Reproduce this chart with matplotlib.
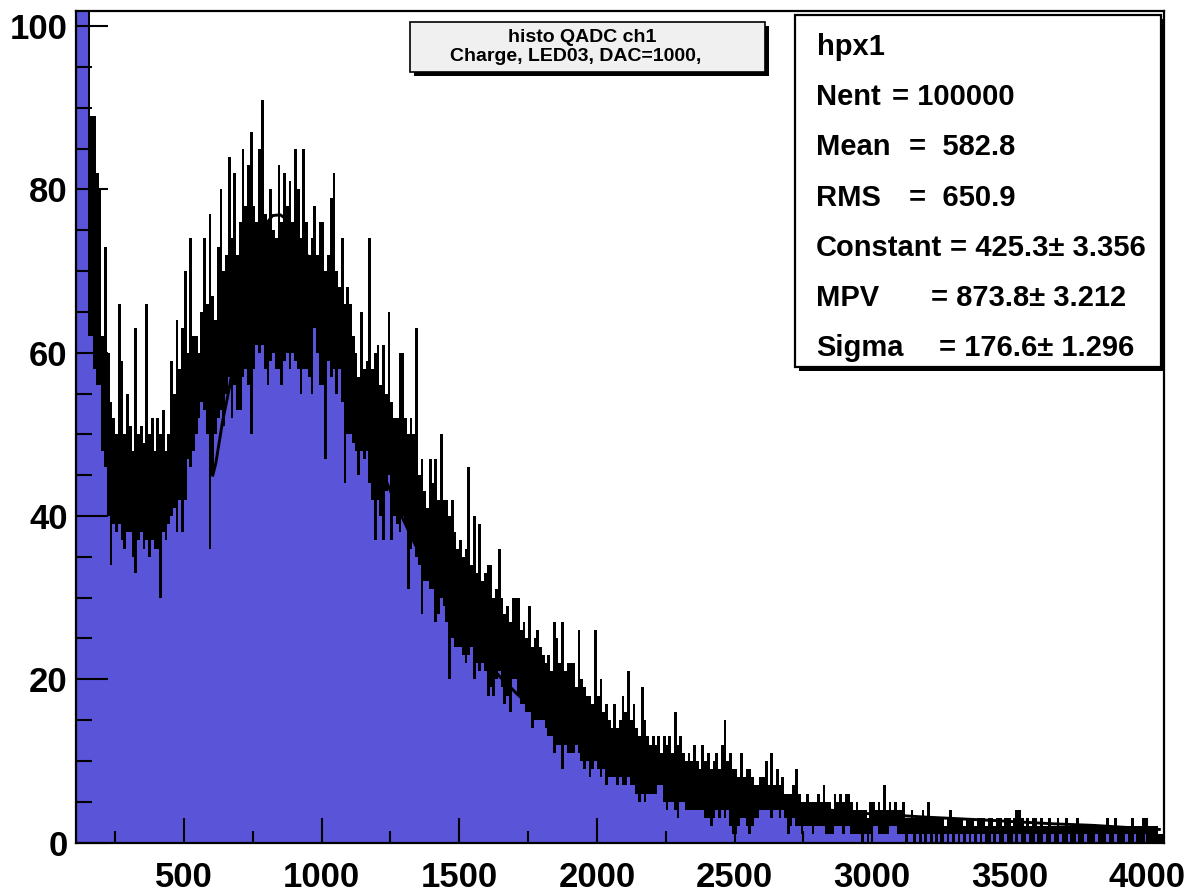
import numpy as np
import matplotlib
matplotlib.use("Agg")
import matplotlib.pyplot as plt
from matplotlib.patches import Rectangle
from matplotlib.ticker import MultipleLocator, FixedLocator
from matplotlib.transforms import Bbox, TransformedBbox

# ---------------- data ----------------
bin_start = 100      # lower edge of first bin (QADC channel)
bin_width = 10       # channels per drawn bin

# upper envelope of the histogram (spike tops) per bin
hist_hi = [
    130,130,130,130,130,130,89,89,82,80,
    62,73,60,54,52,50,66,59,50,55,
    51,48,63,50,51,49,66,50,52,48,
    52,50,53,48,50,59,55,64,58,63,
    70,60,74,62,62,60,65,74,66,77,
    67,64,73,80,70,72,84,74,82,72,
    76,85,78,83,87,78,76,85,91,77,
    76,80,75,74,83,76,82,78,81,76,
    85,80,74,85,76,72,74,78,72,76,
    76,70,72,79,82,70,68,74,66,68,
    66,62,60,57,65,58,59,74,58,60,
    61,56,61,55,65,54,52,52,60,60,
    52,50,52,50,63,45,47,43,41,47,
    44,47,42,50,42,42,40,42,38,36,
    37,35,36,46,34,40,33,39,32,33,
    34,34,30,31,36,30,28,29,27,30,
    30,30,26,27,25,29,24,25,26,24,
    23,22,23,21,27,25,22,27,21,22,
    22,22,19,26,20,19,18,18,17,26,
    18,20,16,17,15,14,17,14,15,18,
    16,21,15,17,14,13,19,15,13,12,
    13,12,13,11,13,12,13,11,16,12,
    13,11,10,11,10,12,10,9,12,10,
    11,9,10,11,9,12,15,10,11,9,
    9,8,11,8,9,9,8,7,7,8,
    8,10,7,11,7,9,7,8,6,6,
    6,7,9,6,5,5,6,5,5,5,
    6,5,7,5,5,4,6,5,6,5,
    6,6,5,4,5,4,4,4,3,5,
    5,4,5,4,7,4,5,4,5,4,
    4,5,3,3,4,3,3,3,4,3,
    5,3,3,3,3,3,2,3,4,3,
    3,3,3,2,3,3,3,2,3,3,
    3,2,3,3,2,3,3,2,3,3,
    2,3,4,4,3,2,3,2,3,3,
    2,3,2,2,3,2,2,3,2,2,
    3,2,2,2,3,2,2,2,2,2,
    2,2,2,2,2,3,2,2,3,2,
    2,2,2,2,3,2,2,2,3,3,
    2,2,2,2,1,1,
]

# lower envelope of the histogram (top of the visible blue fill) per bin
hist_lo = [
    130,130,130,130,130,62,62,58,56,56,
    48,46,40,34,39,38,39,37,36,38,
    38,35,33,37,38,36,37,35,37,36,
    36,30,38,37,39,40,41,38,42,38,
    42,47,46,48,50,52,54,53,50,36,
    45,50,52,53,51,55,57,52,56,53,
    53,57,58,56,50,58,61,60,61,58,
    56,59,60,58,58,56,59,60,58,60,
    59,58,55,58,58,57,55,63,60,56,
    56,47,59,57,58,55,58,54,44,50,
    50,49,48,45,48,47,48,44,42,37,
    42,40,37,43,45,37,40,39,38,40,
    39,31,36,37,35,34,28,32,32,31,
    31,27,28,30,29,27,20,25,24,24,
    24,23,22,23,24,20,22,21,22,21,
    18,19,18,20,21,19,17,18,16,20,
    20,18,17,17,16,16,14,15,15,15,
    15,14,13,13,11,12,12,9,12,11,
    11,11,12,11,10,9,10,8,9,10,
    9,8,9,7,8,8,8,7,8,7,
    7,8,7,7,6,5,6,5,6,6,
    6,6,7,7,5,4,5,5,4,3,
    5,5,4,4,4,4,4,4,4,3,
    3,2,3,4,3,4,3,4,2,1,
    1,2,3,3,2,1,2,3,3,4,
    4,4,4,3,4,4,3,4,3,1,
    2,3,2,2,1,2,2,2,1,2,
    2,2,2,1,1,1,2,2,2,1,
    2,2,1,1,1,1,0,1,0,1,
    2,2,1,1,1,1,2,2,2,1,
    1,1,0,1,1,0,1,0,1,0,
    1,0,1,0,1,0,1,0,1,0,
    1,0,1,0,1,0,1,0,1,0,
    1,0,0,1,0,1,0,0,1,0,
    0,1,0,1,0,0,1,0,0,1,
    0,0,1,0,0,1,0,0,1,0,
    0,1,0,0,1,0,0,1,0,0,
    0,1,0,0,0,1,0,0,1,0,
    0,0,1,0,0,1,0,0,0,1,
    0,0,0,0,0,0,
]

# Landau fit curve
fit_x = [605, 616, 640, 665, 700, 740, 792, 822, 850, 870, 900, 943, 980,
         1020, 1060, 1100, 1140, 1173, 1233, 1282, 1340, 1406, 1470, 1527,
         1590, 1648, 1710, 1769, 1830, 1890, 1950, 2011, 2070, 2132, 2190,
         2253, 2350, 2495, 2600, 2750, 2955, 3200, 3439, 3650, 3802, 4043]
fit_y = [45.0, 46.5, 51.5, 55.7, 62.5, 69.5, 75.5, 76.8, 76.9, 76.4, 75.0,
         72.3, 69.5, 65.5, 61.5, 57.0, 53.0, 49.6, 44.4, 40.6, 36.5, 32.4,
         28.5, 25.5, 22.6, 20.3, 18.2, 16.4, 14.9, 13.6, 12.3, 11.2, 10.2,
         9.4, 8.6, 7.9, 6.8, 5.6, 5.0, 4.3, 3.6, 3.1, 2.7, 2.3, 2.1, 1.6]

x_major = [500, 1000, 1500, 2000, 2500, 3000, 3500, 4000]
y_major = [0, 20, 40, 60, 80, 100]

title_lines = ["histo QADC ch1", "Charge, LED03, DAC=1000,"]
stats_name = "hpx1"
stats_labels = ["Nent", "Mean", "RMS", "Constant", "MPV", "Sigma"]
stats_values = ["= 100000", "=  582.8", "=  650.9",
                "= 425.3\u00b1 3.356", "= 873.8\u00b1 3.212",
                "= 176.6\u00b1 1.296"]

# ---------------- drawing ----------------
W, H = 1191, 892
BLUE = "#5954d8"
plt.rcParams["font.family"] = ["Liberation Sans", "DejaVu Sans"]
plt.rcParams["font.weight"] = "bold"

fig = plt.figure(figsize=(W / 100, H / 100), dpi=100)
fig.patch.set_facecolor("white")


def fx(px):
    return px / W


def fy(py):
    return 1 - py / H


ax = fig.add_axes([fx(76), fy(842.5), fx(1164) - fx(76), fy(10.7) - fy(842.5)])
edges = bin_start + bin_width * np.arange(len(hist_hi) + 1)
ax.stairs(hist_hi, edges, fill=True, color="black", lw=0, zorder=1)
ax.stairs(hist_lo, edges, fill=True, color=BLUE, lw=0, zorder=1.2)
ax.plot(fit_x, fit_y, color="black", lw=2.1, zorder=3, solid_joinstyle="round")

ax.set_xlim(108, 4060)
ax.set_ylim(0, 101.9)
ax.set_axisbelow(False)

ax.xaxis.set_major_locator(FixedLocator(x_major))
ax.xaxis.set_minor_locator(MultipleLocator(250))
ax.yaxis.set_major_locator(FixedLocator(y_major))
ax.yaxis.set_minor_locator(MultipleLocator(5))

ax.tick_params(axis="x", which="major", direction="in", length=18, width=1.5,
               labelsize=25, pad=13, top=False)
ax.tick_params(axis="x", which="minor", direction="in", length=9, width=1.5,
               top=False)
ax.tick_params(axis="y", which="major", direction="in", length=23, width=1.5,
               labelsize=25, pad=6, right=False)
ax.tick_params(axis="y", which="minor", direction="in", length=11.5, width=1.5,
               right=False)
for lab in ax.get_xticklabels() + ax.get_yticklabels():
    lab.set_fontweight("bold")
for sp in ax.spines.values():
    sp.set_linewidth(1.6)
    sp.set_zorder(4)

# ---- title box ----
tx0, tx1, ty0, ty1 = 410, 765, 21.7, 71.7
sh = 4
fig.patches.append(Rectangle((fx(tx0 + sh), fy(ty1 + sh)), fx(tx1) - fx(tx0),
                             fy(ty0) - fy(ty1), transform=fig.transFigure,
                             facecolor="black", edgecolor="none", zorder=5))
fig.patches.append(Rectangle((fx(tx0), fy(ty1)), fx(tx1) - fx(tx0),
                             fy(ty0) - fy(ty1), transform=fig.transFigure,
                             facecolor="#f0f0f0", edgecolor="black", lw=1.2,
                             zorder=6))
fig.text(fx(582), fy(41.5), title_lines[0], ha="center", va="baseline",
         fontsize=14, fontweight="bold", zorder=7)
fig.text(fx(576), fy(61), title_lines[1], ha="center", va="baseline",
         fontsize=14, fontweight="bold", zorder=7)

# ---- stats box ----
sx0, sx1, sy0, sy1 = 795, 1161, 15, 367
fig.patches.append(Rectangle((fx(sx0 + sh), fy(sy1 + sh)), fx(sx1) - fx(sx0),
                             fy(sy0) - fy(sy1), transform=fig.transFigure,
                             facecolor="black", edgecolor="none", zorder=5))
fig.patches.append(Rectangle((fx(sx0), fy(sy1)), fx(sx1) - fx(sx0),
                             fy(sy0) - fy(sy1), transform=fig.transFigure,
                             facecolor="white", edgecolor="black", lw=1.6,
                             zorder=6))
clip = TransformedBbox(Bbox.from_extents(fx(sx0), fy(sy1), fx(sx1 - 1), fy(sy0)),
                       fig.transFigure)

baselines = [55, 105, 155, 206, 256, 306, 356]
eq_x = [892, 909, 909, 950, 931, 939]
fs = 21

fig.text(fx(817), fy(baselines[0]), stats_name, ha="left", va="baseline",
         fontsize=fs, fontweight="bold", zorder=7)
for i, (name, val) in enumerate(zip(stats_labels, stats_values)):
    b = baselines[i + 1]
    fig.text(fx(816), fy(b), name, ha="left", va="baseline", fontsize=fs,
             fontweight="bold", zorder=7)
    tv = fig.text(fx(eq_x[i]), fy(b), val, ha="left", va="baseline",
                  fontsize=fs, fontweight="bold", zorder=7, clip_on=True)
    tv.set_clip_box(clip)

fig.savefig("out.png", dpi=100, facecolor="white")
